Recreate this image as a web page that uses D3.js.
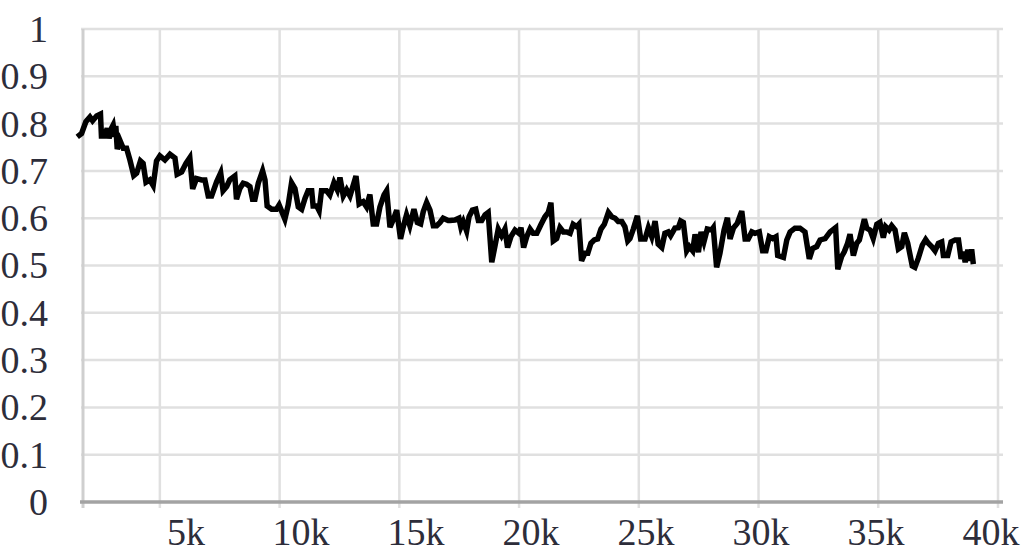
<!DOCTYPE html>
<html>
<head>
<meta charset="utf-8">
<script src="https://cdn.jsdelivr.net/npm/d3@7"></script>
<style>
  html, body { margin: 0; padding: 0; background: #fff; }
  svg { display: block; }
  .tick-label { font-family: "Liberation Serif", "Times New Roman", serif; font-size: 38px; fill: #2d2d3a; }
</style>
</head>
<body>
<div id="chart"></div>
<script>
//Data: training step and value
var steps = [1550,1730,1910,2080,2190,2360,2520,2560,2700,2800,2880,2980,3050,3120,3160,3220,3330,3470,3610,3750,
  3910,4030,4190,4300,4420,4580,4720,4860,5000,5210,5420,5630,5720,5910,6090,6250,6370,6530,6740,6880,
  7020,7160,7370,7540,7640,7790,7920,8130,8200,8340,8480,8620,8760,8870,8970,9110,9290,9390,9480,9670,
  9870,9980,10220,10360,10500,10640,10780,10920,11060,11190,11340,11400,11550,11650,11750,11960,12100,12270,12410,12520,
  12660,12800,12940,13190,13320,13490,13630,13770,13910,14050,14190,14360,14470,14610,14740,14890,15050,15160,15300,15440,
  15610,15750,15890,16000,16140,16280,16420,16560,16700,16830,17040,17110,17320,17490,17570,17670,17810,17910,18050,18190,
  18300,18440,18580,18710,18860,18990,19130,19270,19410,19520,19660,19830,20000,20080,20190,20320,20460,20590,20740,20910,
  21080,21220,21330,21430,21570,21710,21850,21990,22130,22260,22410,22500,22610,22750,22870,23000,23140,23280,23420,23560,
  23730,23870,24010,24140,24290,24420,24540,24630,24770,24940,25080,25260,25400,25540,25680,25810,25960,26090,26230,26330,
  26510,26650,26750,26860,27000,27110,27250,27350,27490,27600,27720,27860,28040,28110,28250,28390,28560,28700,28810,28950,
  29110,29300,29440,29570,29720,29850,30030,30170,30310,30450,30590,30730,30800,31040,31180,31320,31520,31730,31940,32120,
  32260,32430,32570,32780,32990,33220,33310,33470,33580,33720,33820,33960,34100,34210,34310,34420,34520,34660,34790,34940,
  35070,35210,35310,35450,35560,35700,35840,35980,36090,36230,36420,36530,36670,36840,36980,37090,37230,37370,37510,37650,
  37720,37900,38040,38210,38350,38460,38550,38630,38740,38830,38900,38970];

var values = [0.772,0.779,0.804,0.814,0.806,0.816,0.82,0.774,0.774,0.79,0.769,0.79,0.797,0.772,0.795,0.746,0.765,0.748,0.748,0.723,
  0.69,0.695,0.721,0.716,0.676,0.681,0.669,0.721,0.732,0.723,0.735,0.727,0.693,0.698,0.716,0.728,0.662,0.684,0.681,0.681,
  0.647,0.647,0.677,0.696,0.658,0.667,0.681,0.689,0.64,0.663,0.674,0.672,0.667,0.64,0.64,0.674,0.7,0.681,0.626,0.619,
  0.619,0.628,0.598,0.628,0.675,0.663,0.624,0.619,0.642,0.658,0.658,0.626,0.626,0.616,0.658,0.658,0.649,0.675,0.66,0.686,
  0.647,0.66,0.647,0.689,0.63,0.635,0.624,0.65,0.588,0.588,0.624,0.649,0.658,0.581,0.596,0.617,0.556,0.581,0.607,0.584,
  0.619,0.591,0.588,0.614,0.633,0.617,0.584,0.584,0.591,0.6,0.595,0.595,0.596,0.6,0.581,0.593,0.573,0.603,0.617,0.619,
  0.595,0.595,0.607,0.612,0.507,0.54,0.577,0.563,0.577,0.538,0.561,0.575,0.568,0.58,0.538,0.561,0.577,0.568,0.568,0.586,
  0.603,0.612,0.633,0.552,0.557,0.58,0.571,0.571,0.568,0.587,0.582,0.587,0.51,0.526,0.526,0.547,0.554,0.556,0.577,0.587,
  0.612,0.603,0.6,0.593,0.593,0.582,0.552,0.557,0.577,0.605,0.556,0.556,0.58,0.561,0.594,0.545,0.538,0.568,0.571,0.563,
  0.579,0.58,0.594,0.591,0.531,0.54,0.531,0.566,0.528,0.571,0.55,0.577,0.575,0.58,0.496,0.526,0.575,0.601,0.556,0.579,
  0.589,0.615,0.556,0.556,0.571,0.568,0.571,0.531,0.531,0.561,0.557,0.561,0.521,0.517,0.554,0.571,0.579,0.579,0.571,0.514,
  0.536,0.54,0.554,0.557,0.571,0.58,0.492,0.519,0.529,0.547,0.566,0.521,0.547,0.554,0.575,0.598,0.579,0.575,0.557,0.587,
  0.591,0.559,0.582,0.575,0.584,0.575,0.535,0.54,0.569,0.547,0.499,0.496,0.515,0.543,0.555,0.547,0.54,0.531,0.547,0.55,
  0.521,0.521,0.55,0.554,0.554,0.514,0.529,0.507,0.533,0.51,0.534,0.503];

var yTicks = [0,0.1,0.2,0.3,0.4,0.5,0.6,0.7,0.8,0.9,1];
var xTicks = [5000,10000,15000,20000,25000,30000,35000,40000];
var xTickLabels = ["5k","10k","15k","20k","25k","30k","35k","40k"];

//Canvas
var W = 1032, H = 550;
var plot = {left: 83, right: 998, top: 29, bottom: 502};

var data = steps.map(function(s, i) { return {step: s, value: values[i]}; });

//Scales
var xScale = d3.scaleLinear().domain([1790, 40000]).range([plot.left, plot.right]);
var yScale = d3.scaleLinear().domain([0, 1]).range([plot.bottom, plot.top]);
//tick labels sit a little off the grid lines in the original
var xLabelScale = d3.scaleLinear().domain([5000, 40000]).range([186, 991]);

var svg = d3.select("#chart")
  .append("svg")
  .attr("width", W)
  .attr("height", H);

//Horizontal grid
svg.append("g")
  .selectAll("line")
  .data(yTicks.filter(function(d) { return d > 0; }))
  .enter()
  .append("line")
    .attr("x1", plot.left - 2)
    .attr("x2", plot.right + 5)
    .attr("y1", function(d) { return yScale(d); })
    .attr("y2", function(d) { return yScale(d); })
    .attr("stroke", "#e0e0e0")
    .attr("stroke-width", 2.5);

//Vertical grid
svg.append("g")
  .selectAll("line")
  .data(xTicks)
  .enter()
  .append("line")
    .attr("x1", function(d) { return xScale(d); })
    .attr("x2", function(d) { return xScale(d); })
    .attr("y1", plot.top)
    .attr("y2", plot.bottom + 6)
    .attr("stroke", "#e0e0e0")
    .attr("stroke-width", 2.5);

//Left axis line
svg.append("line")
  .attr("x1", plot.left).attr("x2", plot.left)
  .attr("y1", plot.top).attr("y2", plot.bottom + 6)
  .attr("stroke", "#cfcfcf")
  .attr("stroke-width", 3);

//Bottom axis line
svg.append("line")
  .attr("x1", plot.left - 3).attr("x2", plot.right + 5)
  .attr("y1", yScale(0)).attr("y2", yScale(0))
  .attr("stroke", "#a3a3a3")
  .attr("stroke-width", 3.5);

//Data line
var valueLine = d3.line()
  .x(function(d) { return xScale(d.step); })
  .y(function(d) { return yScale(d.value); });

svg.append("path")
  .datum(data)
  .attr("d", valueLine)
  .attr("fill", "none")
  .attr("stroke", "#000")
  .attr("stroke-width", 5.5)
  .attr("stroke-linejoin", "miter");

//Y tick labels
svg.append("g")
  .selectAll("text")
  .data(yTicks)
  .enter()
  .append("text")
    .attr("class", "tick-label")
    .attr("x", 48)
    .attr("y", function(d) { return yScale(d); })
    .attr("dy", "0.34em")
    .attr("text-anchor", "end")
    .text(function(d) { return d3.format("")(d); });

//X tick labels
svg.append("g")
  .selectAll("text")
  .data(xTicks)
  .enter()
  .append("text")
    .attr("class", "tick-label")
    .attr("x", function(d) { return xLabelScale(d); })
    .attr("y", 545)
    .attr("text-anchor", "middle")
    .text(function(d, i) { return xTickLabels[i]; });
</script>
</body>
</html>
